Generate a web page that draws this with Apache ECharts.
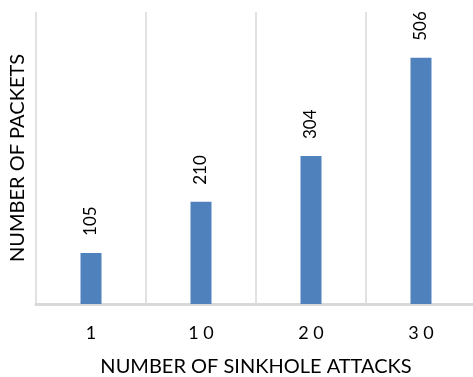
<!DOCTYPE html>
<html>
<head>
<meta charset="utf-8">
<script src="https://cdn.jsdelivr.net/npm/echarts@6/dist/echarts.min.js"></script>
<style>
	html, body { margin: 0; padding: 0; background: #fff; }
	#main { width: 473px; height: 377px; }
</style>
</head>
<body>
<div id="main"></div>
<script>
	// 数据
	var attacks = ['1', '10', '20', '30'];
	var packets = [105, 210, 304, 506];
	var yMax = 600;

	var myChart = echarts.init(document.getElementById('main'));
	var option = {
		animation: false,
		textStyle: { fontFamily: 'Lato' },
		grid: {
			left: 36,
			right: -3,
			top: 12,
			bottom: 73,
			outerBoundsMode: 'none'
		},
		xAxis: {
			type: 'category',
			data: attacks,
			name: 'NUMBER OF SINKHOLE ATTACKS',
			nameLocation: 'middle',
			nameGap: 53,
			nameTextStyle: { color: '#000', fontSize: 20 },
			axisLine: {
				lineStyle: { color: '#d9d9d9', width: 3 }
			},
			axisTick: { show: false },
			axisLabel: {
				color: '#000',
				fontSize: 18,
				margin: 20,
				formatter: function(v) {
					return v.split('').join(' ');
				}
			},
			splitLine: {
				show: true,
				lineStyle: { color: '#d9d9d9', width: 1.5 }
			}
		},
		yAxis: {
			type: 'value',
			min: 0,
			max: yMax,
			name: 'NUMBER OF PACKETS',
			nameLocation: 'middle',
			nameGap: 8,
			nameTextStyle: { color: '#000', fontSize: 20 },
			axisLine: { show: false },
			axisTick: { show: false },
			axisLabel: { show: false },
			splitLine: { show: false }
		},
		series: [{
			type: 'bar',
			data: packets,
			barWidth: 21,
			itemStyle: { color: '#4f81bd' },
			label: {
				show: true,
				position: 'top',
				rotate: 90,
				align: 'left',
				verticalAlign: 'middle',
				distance: 17,
				color: '#000',
				fontSize: 17
			}
		}]
	};
	myChart.setOption(option);
</script>
</body>
</html>
